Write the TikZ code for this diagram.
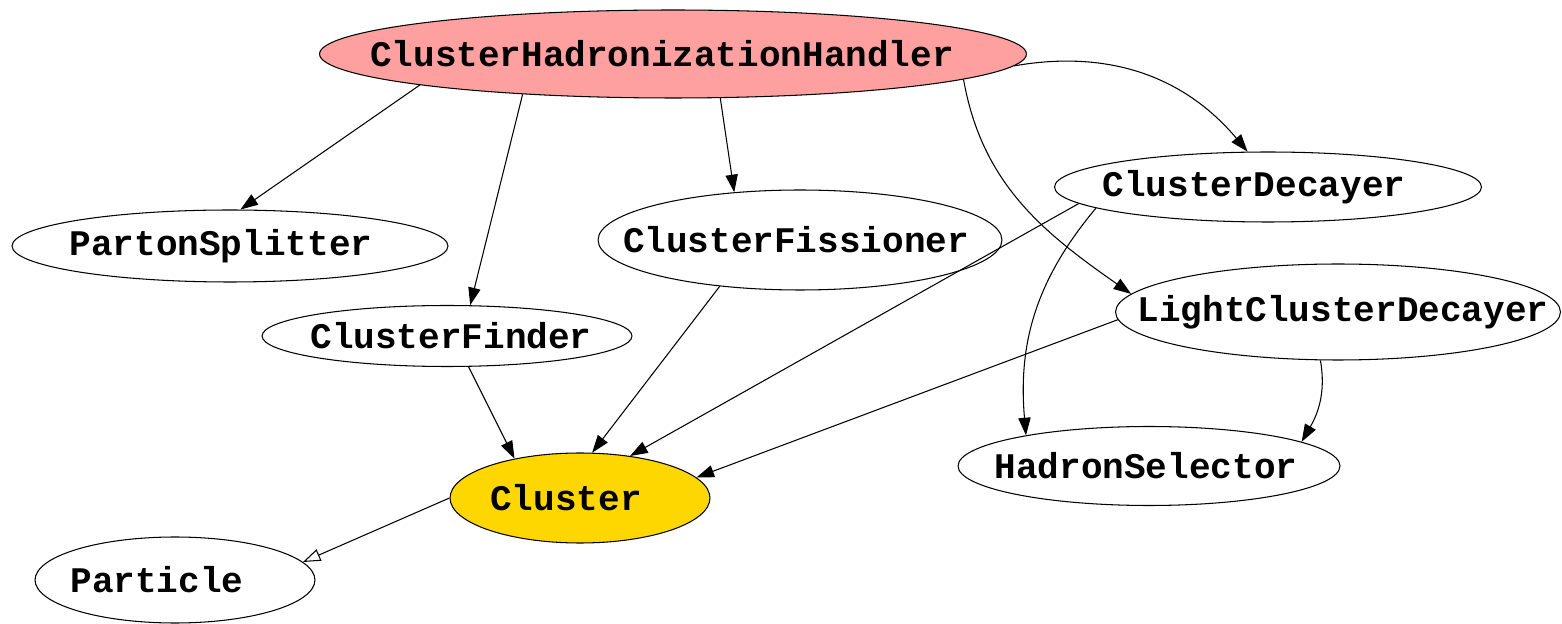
\documentclass[tikz,border=0pt]{standalone}
\usepackage{fontspec}
\setmonofont{Liberation Mono}
\usetikzlibrary{shapes.geometric, arrows.meta}
\definecolor{handlerpink}{RGB}{255,160,160}
\definecolor{clustergold}{RGB}{255,215,0}
\tikzset{
    every node/.style={ellipse, draw, line width=0.6pt, inner sep=0pt,
        font=\ttfamily\bfseries\fontsize{20.5}{24}\selectfont,
        execute at begin node={\hbox to 0pt\bgroup\hss},
        execute at end node={\hss\egroup}},
    textshift/.style={execute at begin node={\kern#1}}
}
\tikzset{
    every edge/.append style={line width=0.6pt, -{Triangle[length=10pt, width=7pt]}}
}

\begin{document}
\begin{tikzpicture}[x=0.02cm, y=-0.02cm]
  \useasboundingbox (0,0) rectangle (1562,624);

  \node (chh) [fill=handlerpink, minimum width=14.14cm, minimum height=1.76cm, textshift=-0.44cm] at (673,54) {ClusterHadronizationHandler};
  \node (ps) [minimum width=8.72cm, minimum height=1.44cm, textshift=-0.36cm] at (230,246) {PartonSplitter};
  \node (cf) [minimum width=7.4cm, minimum height=1.22cm, textshift=0.16cm] at (447,336) {ClusterFinder};
  \node (cfis) [minimum width=8.08cm, minimum height=2cm, textshift=-0.16cm] at (800,240) {ClusterFissioner};
  \node (cd) [minimum width=8.54cm, minimum height=1.4cm, textshift=-0.56cm] at (1268,187) {ClusterDecayer};
  \node (lcd) [minimum width=8.9cm, minimum height=1.92cm, textshift=0.2cm] at (1338,312) {LightClusterDecayer};
  \node (hs) [minimum width=7.64cm, minimum height=1.58cm, textshift=-0.12cm] at (1149,466) {HadronSelector};
  \node (cl) [fill=clustergold, minimum width=5.2cm, minimum height=1.8cm, textshift=-0.56cm] at (580,498) {Cluster};
  \node (pa) [minimum width=5.6cm, minimum height=1.72cm, textshift=-0.72cm] at (175,580) {Particle};

  \draw (chh.187) edge (ps.74);
  \draw (chh.195) edge (cf.53);
  \draw (chh.317) edge (cfis.144);
  \draw (chh.358) edge [out=10, in=130] (cd.120);
  \draw (chh.355) edge [out=-80, in=145] (lcd.175);
  \draw (cd.185) edge (cl.40);
  \draw (cd.187) edge [out=-130, in=95] (hs.166);
  \draw (lcd.182) edge (cl.10);
  \draw (lcd.250) edge [out=-80, in=60] (hs.9);
  \draw (cfis.210) edge (cl.75);
  \draw (cf.305) edge (cl.149);
  \draw (cl.180) edge [-{Triangle[open, length=10pt, width=7pt]}] (pa.8);
\end{tikzpicture}
\end{document}
